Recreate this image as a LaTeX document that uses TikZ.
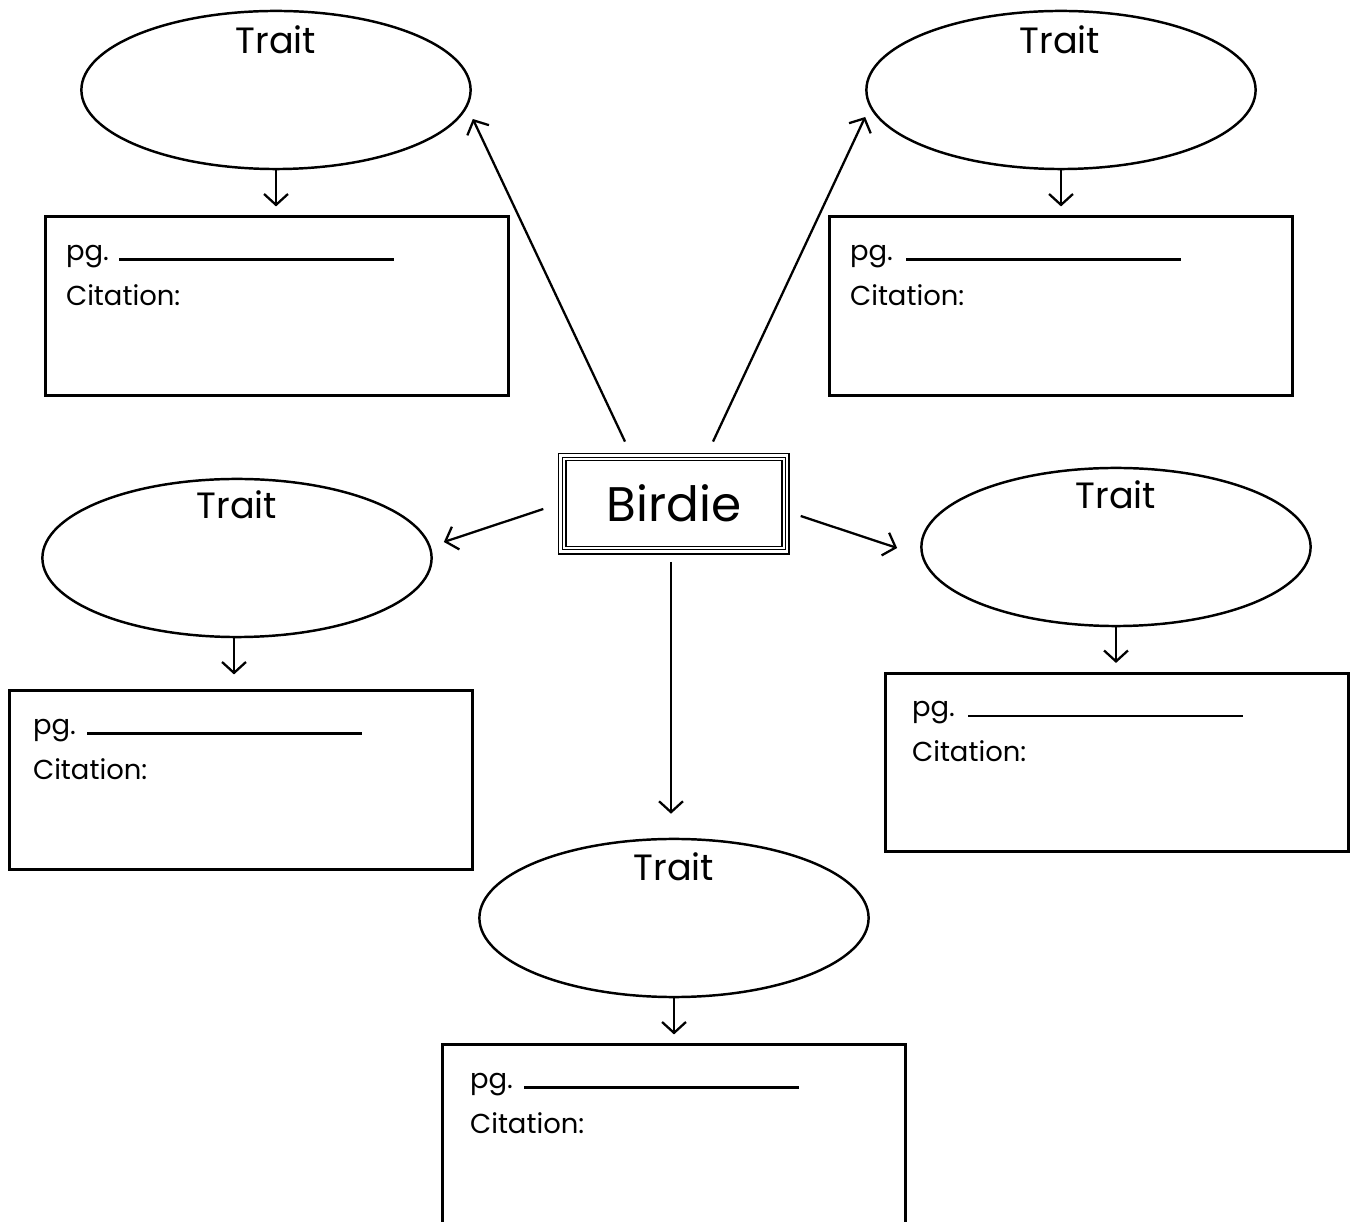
\documentclass[tikz,border=0pt]{standalone}
\usepackage{fontspec}
\setmainfont{Poppins}
\usetikzlibrary{arrows.meta,positioning,calc,shapes.geometric}

\begin{document}
\begin{tikzpicture}[x=0.01cm,y=-0.01cm,
        trait/.style={draw, ellipse, line width=0.7pt, minimum width=3.89cm, minimum height=1.58cm, inner sep=0pt},
        citebox/.style={draw, rectangle, line width=0.85pt, minimum width=4.62cm, minimum height=1.78cm, inner sep=0pt},
        traitlbl/.style={font=\fontsize{10.4}{13}\selectfont, anchor=base, inner sep=0pt},
        boxtxt/.style={font=\fontsize{7.8}{9}\selectfont, anchor=base west, inner sep=0pt},
        arr/.style={-{Straight Barb[length=3.1pt,width=6.8pt]}, line width=0.65pt}]
        \useasboundingbox (0,0) rectangle (1351,1222);
        \clip (0,0) rectangle (1351,1222);

        % Centre box
        \node[draw, double, line width=0.35pt, double distance=0.55pt, minimum width=2.19cm, minimum height=0.885cm,
              font=\fontsize{13.8}{16}\selectfont] (birdie) at (674,503.5) {Birdie};
        \draw[line width=0.4pt] ($(birdie.north west)+(-5.5,-5)$) rectangle ($(birdie.south east)+(5,5.5)$);

        % Trait ellipses
        \node[trait] (tl) at (276,90) {};
        \node[trait] (tr) at (1061,90) {};
        \node[trait] (ml) at (237,558) {};
        \node[trait] (mr) at (1116,547) {};
        \node[trait] (bt) at (674,918) {};
        \node[traitlbl] (tllbl) at (276,54) {Trait};
        \node[traitlbl] (trlbl) at (1060,54) {Trait};
        \node[traitlbl] (mllbl) at (237,519) {Trait};
        \node[traitlbl] (mrlbl) at (1116,509) {Trait};
        \node[traitlbl] (btlbl) at (674,881) {Trait};

        % Citation boxes
        \node[citebox] (tlbox) at (277,306) {};
        \node[citebox] (trbox) at (1061,306) {};
        \node[citebox] (mlbox) at (241,780) {};
        \node[citebox] (mrbox) at (1117,762.5) {};
        \node[citebox, minimum height=2cm] (btbox) at (674,1145) {};

        % pg. and Citation: lines
        \node[boxtxt] (tlpg) at ($(tlbox.north west)+(21,45)$) {pg.};
        \node[boxtxt] (tlcit) at ($(tlbox.north west)+(21,90)$) {Citation:};
        \draw[line width=0.65pt] ($(tlbox.north west)+(75,44)$) -- ++(275,0);
        \node[boxtxt] (trpg) at ($(trbox.north west)+(21,45)$) {pg.};
        \node[boxtxt] (trcit) at ($(trbox.north west)+(21,90)$) {Citation:};
        \draw[line width=0.65pt] ($(trbox.north west)+(78,44)$) -- ++(275,0);
        \node[boxtxt] (mlpg) at ($(mlbox.north west)+(24,45)$) {pg.};
        \node[boxtxt] (mlcit) at ($(mlbox.north west)+(24,90)$) {Citation:};
        \draw[line width=0.65pt] ($(mlbox.north west)+(79,44)$) -- ++(275,0);
        \node[boxtxt] (mrpg) at ($(mrbox.north west)+(27,45)$) {pg.};
        \node[boxtxt] (mrcit) at ($(mrbox.north west)+(27,90)$) {Citation:};
        \draw[line width=0.65pt] ($(mrbox.north west)+(84,44)$) -- ++(275,0);
        \node[boxtxt] (btpg) at ($(btbox.north west)+(28,45)$) {pg.};
        \node[boxtxt] (btcit) at ($(btbox.north west)+(28,90)$) {Citation:};
        \draw[line width=0.65pt] ($(btbox.north west)+(83,44)$) -- ++(275,0);

        % Arrows from the centre box
        \draw[arr] ($(birdie.north)+(-49,-17)$) -- ($(tl.east)+(1,29)$);
        \draw[arr] ($(birdie.north)+(39,-17)$) -- ($(tr.west)+(0,27)$);
        \draw[arr] ($(birdie.west)+(-20.5,5.5)$) -- ($(ml.east)+(11,-16)$);
        \draw[arr] ($(birdie.east)+(16.5,12.5)$) -- ($(mr.west)+(-23,1)$);
        \draw[arr] ($(birdie.south)+(-3,13.5)$) -- ($(bt.north)+(-3,-24)$);

        % Arrows from ellipses to boxes
        \draw[arr, shorten >=0.09cm] (tl.south) -- (tl.south |- tlbox.north);
        \draw[arr, shorten >=0.09cm] (tr.south) -- (tr.south |- trbox.north);
        \draw[arr, shorten >=0.15cm] ([xshift=-0.03cm]ml.south) -- ([xshift=-0.03cm]ml.south |- mlbox.north);
        \draw[arr, shorten >=0.09cm] (mr.south) -- (mr.south |- mrbox.north);
        \draw[arr, shorten >=0.09cm] (bt.south) -- (bt.south |- btbox.north);

    \end{tikzpicture}
\end{document}
